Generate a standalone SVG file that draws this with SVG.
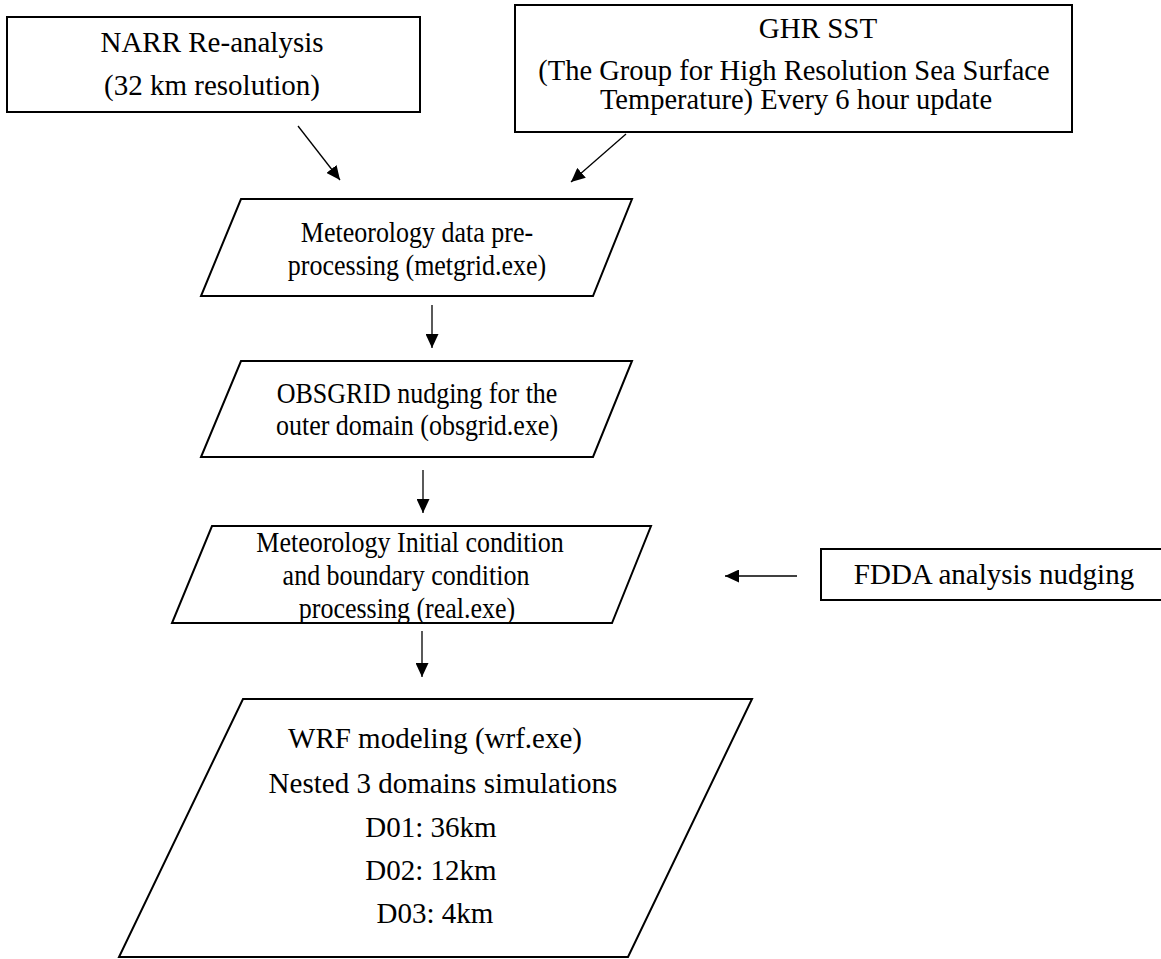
<svg xmlns="http://www.w3.org/2000/svg" width="1161" height="959" viewBox="0 0 1161 959">
<style>
.shape{fill:#fff;stroke:#000;stroke-width:2}
.t{font-family:"Liberation Serif","Times New Roman",serif;font-size:29px;fill:#000;text-anchor:middle}
.g{font-family:"Liberation Serif","Times New Roman",serif;font-size:28.5px;fill:#000;text-anchor:middle}
.m{font-family:"Liberation Serif","Times New Roman",serif;font-size:26px;fill:#000;text-anchor:middle}
.conn line{stroke:#000;stroke-width:1.3;marker-end:url(#ah)}
</style>
<defs>
<marker id="ah" markerUnits="userSpaceOnUse" markerWidth="14" markerHeight="13" refX="14" refY="6.5" orient="auto">
<path d="M0,0 L14,6.5 L0,13 z" fill="#000"/>
</marker>
</defs>
<rect width="1161" height="959" fill="#fff"/>
<g id="narr">
<rect class="shape" x="7" y="17" width="413" height="95"/>
<text class="t" x="212" y="52">NARR Re-analysis</text>
<text class="t" x="212" y="95">(32 km resolution)</text>
</g>
<g id="ghrsst">
<rect class="shape" x="515" y="5" width="557" height="127"/>
<text class="t" x="818" y="38">GHR SST</text>
<text class="g" x="794" y="80">(The Group for High Resolution Sea Surface</text>
<text class="g" x="796" y="109">Temperature) Every 6 hour update</text>
</g>
<g id="metgrid">
<polygon class="shape" points="241,199 632,199 593,296 201,296"/>
<text class="m" transform="translate(417,242) scale(1,1.15)">Meteorology data pre-</text>
<text class="m" transform="translate(417,275) scale(1,1.15)">processing (metgrid.exe)</text>
</g>
<g id="obsgrid">
<polygon class="shape" points="241,361 632,361 593,457 201,457"/>
<text class="m" transform="translate(417,403) scale(1,1.15)">OBSGRID nudging for the</text>
<text class="m" transform="translate(417,435) scale(1,1.15)">outer domain (obsgrid.exe)</text>
</g>
<g id="real">
<polygon class="shape" points="212,526 651,526 612,623 172,623"/>
<text class="m" transform="translate(410,552) scale(1,1.15)">Meteorology Initial condition</text>
<text class="m" transform="translate(406,585) scale(1,1.15)">and boundary condition</text>
<text class="m" transform="translate(407,618) scale(1,1.15)">processing (real.exe)</text>
</g>
<g id="fdda">
<rect class="shape" x="821" y="549" width="345" height="51"/>
<text class="t" x="994" y="584">FDDA analysis nudging</text>
</g>
<g id="wrf">
<polygon class="shape" points="243,699 752,699 628,957 119,957"/>
<text class="t" x="435" y="748">WRF modeling (wrf.exe)</text>
<text class="t" x="443" y="793">Nested 3 domains simulations</text>
<text class="t" x="431" y="837">D01: 36km</text>
<text class="t" x="431" y="880">D02: 12km</text>
<text class="t" x="435" y="923">D03: 4km</text>
</g>
<g class="conn" id="connectors">
<line x1="298" y1="126" x2="340" y2="180"/>
<line x1="626" y1="134" x2="571" y2="182"/>
<line x1="432" y1="305" x2="432" y2="348"/>
<line x1="423" y1="470" x2="423" y2="513"/>
<line x1="797" y1="576" x2="725" y2="576"/>
<line x1="422" y1="631" x2="422" y2="677"/>
</g>
</svg>
